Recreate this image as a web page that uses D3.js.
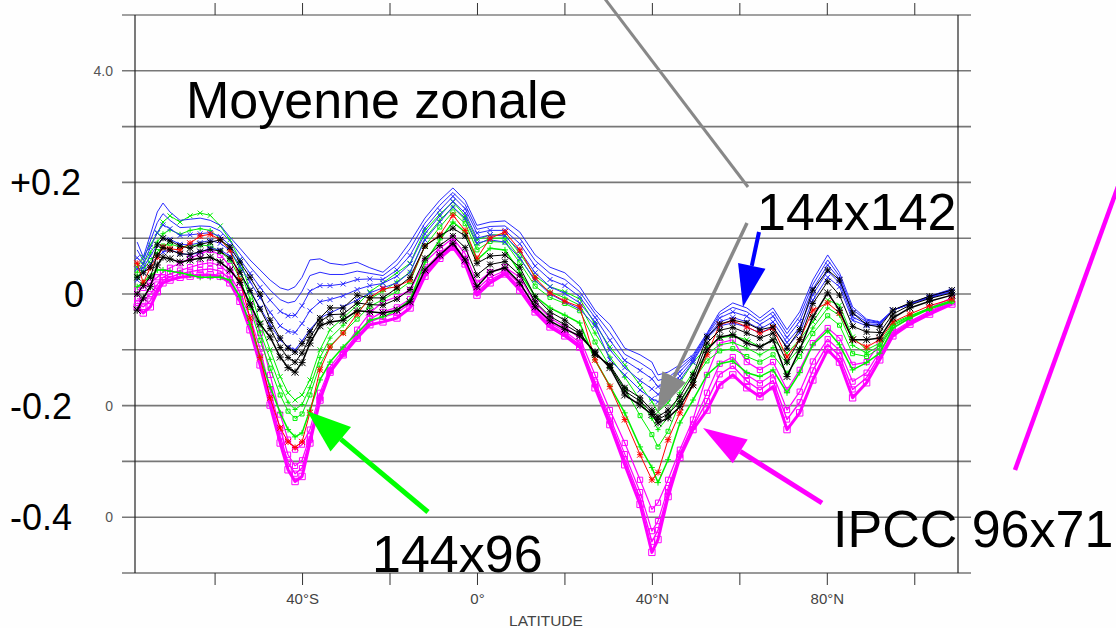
<!DOCTYPE html>
<html>
<head>
<meta charset="utf-8">
<script src="https://cdn.jsdelivr.net/npm/d3@7"></script>
<style>
  html, body { margin: 0; padding: 0; background: #fefefe; }
  svg { display: block; }
</style>
</head>
<body>
<svg id="chart" width="1116" height="628"></svg>
<script>
// Zonal mean profiles, one value per latitude of the shared grid.
const latitudes = [-77.7,-76.3,-74.7,-73.1,-71.8,-70.2,-67.9,-65.6,-63.3,-61,-58.7,-56.5,-54.2,-51.9,-49.6,-47.3,-45,-43.2,-41.6,-40,-38.2,-35.9,-33.6,-30.6,-27.4,-24.5,-21.5,-18.3,-15.3,-11.9,-8.5,-5.5,-2.7,0,3,6.4,9.8,13.3,16.7,20.1,23.5,27,30.4,33.8,37.3,40,41.4,43.7,46.4,49.4,52.6,55.5,58.5,61.7,64.7,67.7,70.9,73.8,76.8,80.2,82.9,85.9,89.1,92.1,95.1,99,103.5,108.6];

// 144x142 runs (blue)
const blueHigh = [.093,.066,.106,.147,.163,.147,.132,.134,.136,.132,
  .123,.102,.082,.061,.043,.025,.011,.007,.013,.030,
  .061,.063,.055,.052,.057,.047,.039,.061,.093,.136,
  .168,.190,.168,.123,.129,.131,.111,.070,.048,.038,
  .013,-.029,-.055,-.097,-.109,-.122,-.145,-.140,-.127,-.109,
  -.070,-.032,-.016,-.025,-.043,-.025,-.064,-.032,.025,.070,
  .038,-.023,-.045,-.050,-.029,-.018,-.004,.009];
const blueUpper = [.079,.060,.095,.128,.144,.132,.119,.120,.122,.121,
  .113,.095,.072,.049,.028,.007,-.010,-.016,-.013,.005,
  .033,.039,.035,.035,.041,.037,.033,.052,.081,.127,
  .159,.182,.160,.116,.121,.122,.100,.060,.037,.026,
  .004,-.035,-.069,-.108,-.123,-.137,-.155,-.150,-.133,-.112,
  -.072,-.037,-.024,-.032,-.049,-.032,-.071,-.040,.017,.061,
  .032,-.028,-.047,-.051,-.029,-.018,-.004,.008];
const blueMid = [.065,.054,.083,.110,.124,.117,.105,.106,.108,.110,
  .103,.087,.062,.037,.012,-.011,-.031,-.039,-.038,-.021,
  .005,.015,.015,.018,.026,.027,.026,.043,.069,.118,
  .150,.175,.153,.109,.114,.114,.090,.050,.026,.015,
  -.005,-.042,-.083,-.119,-.137,-.152,-.166,-.161,-.139,-.115,
  -.074,-.043,-.032,-.040,-.055,-.040,-.078,-.049,.009,.052,
  .027,-.034,-.050,-.052,-.029,-.018,-.005,.007];
const blueLower = [.045,.047,.068,.088,.100,.098,.089,.088,.092,.096,
  .091,.078,.050,.022,-.007,-.033,-.057,-.067,-.069,-.053,
  -.030,-.014,-.010,-.003,.008,.015,.019,.032,.054,.108,
  .140,.166,.145,.100,.106,.104,.077,.038,.013,.001,
  -.016,-.050,-.100,-.132,-.155,-.170,-.180,-.174,-.147,-.119,
  -.077,-.050,-.042,-.050,-.063,-.050,-.087,-.060,-.001,.041,
  .020,-.041,-.054,-.054,-.029,-.018,-.006,.005];
const blueLow = [.025,.039,.054,.066,.075,.079,.073,.070,.075,.082,
  .079,.068,.038,.007,-.025,-.055,-.082,-.095,-.100,-.084,
  -.064,-.043,-.034,-.023,-.011,.002,.011,.020,.039,.097,
  .129,.156,.136,.091,.097,.093,.064,.025,.000,-.014,
  -.027,-.057,-.118,-.145,-.172,-.188,-.193,-.186,-.154,-.122,
  -.079,-.057,-.052,-.059,-.070,-.059,-.095,-.070,-.011,.030,
  .013,-.047,-.057,-.055,-.029,-.018,-.007,.004];

// 144x96 runs (green)
const greenHigh = [.048,.066,.088,.109,.129,.140,.129,.140,.145,.141,
  .122,.097,.061,.007,-.052,-.100,-.148,-.177,-.190,-.181,
  -.154,-.100,-.064,-.043,-.020,.004,.020,.038,.055,.114,
  .143,.165,.140,.097,.106,.106,.073,.032,.013,.004,
  -.009,-.054,-.095,-.127,-.163,-.193,-.211,-.195,-.159,-.123,
  -.095,-.079,-.075,-.082,-.095,-.082,-.106,-.082,-.050,-.011,
  -.020,-.077,-.100,-.088,-.052,-.039,-.025,-.011];
const greenUpper = [.039,.055,.074,.093,.108,.115,.107,.114,.117,.114,
  .099,.079,.045,-.009,-.068,-.117,-.165,-.194,-.207,-.198,
  -.168,-.114,-.079,-.056,-.033,-.009,.005,.022,.039,.100,
  .132,.156,.133,.088,.100,.100,.065,.023,.004,-.007,
  -.020,-.070,-.113,-.149,-.190,-.223,-.243,-.221,-.177,-.140,
  -.108,-.091,-.087,-.097,-.109,-.096,-.124,-.097,-.061,-.025,
  -.038,-.092,-.106,-.093,-.055,-.040,-.026,-.012];
const greenMid = [.030,.044,.060,.076,.086,.090,.084,.087,.088,.086,
  .076,.061,.028,-.024,-.083,-.133,-.181,-.210,-.223,-.215,
  -.181,-.127,-.093,-.069,-.045,-.022,-.010,.005,.022,.086,
  .120,.147,.126,.079,.094,.093,.056,.014,-.006,-.017,
  -.030,-.086,-.130,-.170,-.218,-.252,-.274,-.246,-.195,-.156,
  -.120,-.102,-.098,-.112,-.122,-.109,-.142,-.112,-.071,-.039,
  -.056,-.107,-.112,-.097,-.057,-.041,-.026,-.013];
const greenLow = [.013,.021,.032,.043,.043,.041,.038,.034,.030,.030,
  .030,.025,-.005,-.055,-.113,-.166,-.213,-.243,-.256,-.249,
  -.208,-.154,-.122,-.095,-.070,-.047,-.041,-.029,-.011,.057,
  .097,.129,.111,.061,.082,.079,.039,-.004,-.025,-.038,
  -.052,-.118,-.165,-.213,-.274,-.311,-.338,-.297,-.231,-.190,
  -.145,-.125,-.120,-.141,-.148,-.136,-.177,-.141,-.091,-.066,
  -.091,-.136,-.123,-.106,-.061,-.043,-.027,-.014];

// reference run (red)
const redRun = [.055,.020,.047,.066,.084,.081,.079,.091,.104,.107,
  .097,.079,.025,-.043,-.114,-.186,-.240,-.265,-.275,-.265,
  -.213,-.136,-.095,-.070,-.036,-.007,.009,.013,.025,.086,
  .106,.141,.114,.064,.100,.111,.079,.029,.002,-.013,
  -.023,-.118,-.166,-.225,-.288,-.333,-.320,-.261,-.213,-.163,
  -.109,-.055,-.048,-.059,-.070,-.061,-.113,-.082,-.029,-.016,
  -.034,-.082,-.095,-.082,-.050,-.036,-.021,-.009];

// 144x142 zoomed runs (black)
const blackHigh = [.030,.038,.048,.088,.100,.095,.086,.082,.089,.093,
  .097,.084,.057,.030,.000,-.047,-.079,-.097,-.104,-.089,
  -.068,-.043,-.025,-.025,-.002,-.007,-.007,.011,.030,.086,
  .104,.118,.104,.055,.068,.070,.048,-.005,-.032,-.047,
  -.068,-.109,-.127,-.168,-.186,-.208,-.220,-.208,-.184,-.145,
  -.077,-.054,-.047,-.052,-.064,-.059,-.097,-.064,.007,.043,
  .025,-.034,-.055,-.059,-.029,-.016,-.004,.007];
const blackMid = [.000,.015,.030,.070,.083,.079,.072,.071,.076,.080,
  .077,.064,.039,.006,-.027,-.062,-.096,-.114,-.122,-.106,
  -.078,-.050,-.037,-.036,-.016,-.019,-.020,-.009,.008,.064,
  .087,.104,.083,.034,.053,.058,.034,-.014,-.040,-.055,
  -.071,-.106,-.129,-.174,-.192,-.212,-.225,-.215,-.193,-.154,
  -.088,-.065,-.060,-.070,-.079,-.070,-.122,-.082,-.017,.022,
  -.002,-.058,-.068,-.069,-.036,-.020,-.008,.002];
const blackLow = [-.029,-.007,.013,.052,.066,.063,.057,.061,.064,.066,
  .057,.043,.021,-.018,-.054,-.077,-.113,-.132,-.140,-.123,
  -.088,-.057,-.050,-.047,-.030,-.032,-.034,-.029,-.014,.043,
  .070,.091,.061,.013,.039,.047,.020,-.023,-.048,-.063,
  -.075,-.104,-.132,-.181,-.199,-.216,-.231,-.222,-.202,-.163,
  -.100,-.077,-.073,-.088,-.095,-.082,-.148,-.100,-.041,.002,
  -.029,-.082,-.082,-.079,-.043,-.025,-.013,-.002];

// IPCC 96x71 runs (magenta)
const magentaHigh = [.007,.011,.020,.030,.039,.047,.055,.064,.072,.079,
  .070,.050,.016,-.020,-.070,-.145,-.216,-.261,-.279,-.270,
  -.243,-.177,-.131,-.100,-.064,-.034,-.014,-.005,.007,.057,
  .082,.100,.072,.020,.039,.048,.030,-.016,-.043,-.059,
  -.079,-.145,-.208,-.267,-.333,-.386,-.374,-.333,-.279,-.225,
  -.145,-.088,-.082,-.122,-.136,-.122,-.172,-.136,-.088,-.061,
  -.079,-.127,-.122,-.088,-.061,-.043,-.025,-.007];
const magentaMid = [-.008,-.012,.000,.017,.030,.036,.042,.048,.053,.056,
  .051,.035,.002,-.042,-.098,-.172,-.242,-.288,-.308,-.298,
  -.255,-.184,-.136,-.105,-.072,-.045,-.032,-.024,-.009,.045,
  .073,.092,.063,.009,.030,.042,.018,-.024,-.051,-.067,
  -.087,-.157,-.221,-.287,-.355,-.425,-.407,-.348,-.286,-.234,
  -.177,-.125,-.113,-.145,-.160,-.144,-.208,-.175,-.121,-.081,
  -.101,-.157,-.141,-.103,-.068,-.049,-.031,-.013];
const magentaLower = [-.016,-.023,-.012,.010,.025,.030,.036,.040,.043,.045,
  .041,.027,-.006,-.053,-.112,-.186,-.255,-.302,-.322,-.312,
  -.261,-.187,-.138,-.107,-.076,-.050,-.041,-.034,-.017,.038,
  .068,.088,.058,.003,.025,.039,.012,-.028,-.055,-.071,
  -.091,-.162,-.227,-.296,-.366,-.444,-.423,-.355,-.289,-.238,
  -.192,-.144,-.129,-.156,-.172,-.155,-.225,-.194,-.137,-.090,
  -.111,-.171,-.150,-.110,-.071,-.051,-.033,-.015];
const magentaLow = [-.023,-.034,-.023,.004,.020,.025,.030,.032,.034,.034,
  .032,.020,-.013,-.064,-.127,-.199,-.267,-.315,-.336,-.327,
  -.267,-.190,-.140,-.109,-.079,-.055,-.050,-.043,-.025,.032,
  .064,.084,.054,-.002,.020,.036,.007,-.032,-.059,-.075,
  -.095,-.168,-.234,-.306,-.377,-.463,-.440,-.363,-.293,-.243,
  -.208,-.163,-.145,-.168,-.184,-.166,-.243,-.213,-.154,-.100,
  -.122,-.186,-.159,-.118,-.075,-.054,-.036,-.018];

// Axes: tick positions and labels
const gridValues = [0.5, 0.4, 0.3, 0.2, 0.1, 0, -0.1, -0.2, -0.3, -0.4, -0.5];
const bigLabelValues = [0.2, 0, -0.2, -0.4];
const bigLabelTexts = ["+0.2", "0", "-0.2", "-0.4"];
const smallLabelValues = [0.4, -0.2, -0.4];
const smallLabelTexts = ["4.0", "0", "0"];
const xTickValues = [-60, -40, -20, 0, 20, 40, 60, 80, 100];
const xLabelValues = [-40, 0, 40, 80];
const xLabelTexts = ["40°S", "0°", "40°N", "80°N"];

const FONT = "'Liberation Sans', Arial, Helvetica, sans-serif";
const svg = d3.select("#chart");

const x = d3.scaleLinear().domain([-78.2, 110]).range([135, 958]);
const y = d3.scaleLinear().domain([-0.5, 0.5]).range([573, 15]);

// horizontal rules, reaching a little past both frame sides
svg.append("g").selectAll("line").data(gridValues).join("line")
  .attr("x1", 122).attr("x2", 971)
  .attr("y1", d => y(d)).attr("y2", d => y(d))
  .attr("stroke", d => (d === 0.5 ? "#444" : "#777"))
  .attr("stroke-width", d => (d === 0.5 ? 1.2 : 1.6));

// vertical frame sides
svg.append("g").selectAll("line").data(x.domain()).join("line")
  .attr("x1", d => x(d)).attr("x2", d => x(d))
  .attr("y1", y(0.5)).attr("y2", y(-0.5))
  .attr("stroke", "#222").attr("stroke-width", 1.2);

// top ticks
const topAxis = svg.append("g").attr("transform", `translate(0,${y(0.5)})`)
  .call(d3.axisTop(x).tickValues(xTickValues).tickSize(12).tickFormat(""));
topAxis.select(".domain").remove();
topAxis.selectAll(".tick line").attr("stroke", "#333");

// bottom ticks with latitude labels
const labelOf = new Map(xLabelValues.map((v, i) => [v, xLabelTexts[i]]));
const bottomAxis = svg.append("g").attr("transform", `translate(0,${y(-0.5)})`)
  .call(d3.axisBottom(x).tickValues(xTickValues).tickSize(12).tickPadding(8)
    .tickFormat(d => labelOf.get(d) || ""));
bottomAxis.select(".domain").remove();
bottomAxis.selectAll(".tick line").attr("stroke", "#333");
bottomAxis.selectAll(".tick text")
  .attr("font-family", FONT).attr("font-size", 15).attr("fill", "#444");

svg.append("text").attr("x", 546).attr("y", 626)
  .attr("text-anchor", "middle").attr("font-family", FONT)
  .attr("font-size", 15.5).attr("fill", "#444").text("LATITUDE");

// value labels on the left
svg.append("g").selectAll("text").data(bigLabelValues).join("text")
  .attr("x", (d, i) => (/^[+-]/.test(bigLabelTexts[i]) ? 10 : 84))
  .attr("y", d => y(d) + 13)
  .attr("text-anchor", (d, i) => (/^[+-]/.test(bigLabelTexts[i]) ? "start" : "end"))
  .attr("font-family", FONT).attr("font-size", 36).attr("fill", "#000")
  .text((d, i) => bigLabelTexts[i]);

svg.append("g").selectAll("text").data(smallLabelValues).join("text")
  .attr("x", 113).attr("y", d => y(d) + 5)
  .attr("text-anchor", "end")
  .attr("font-family", FONT).attr("font-size", 14).attr("fill", "#555")
  .text((d, i) => smallLabelTexts[i]);

// title
svg.append("text").attr("x", 186).attr("y", 118)
  .attr("font-family", FONT).attr("font-size", 52).attr("fill", "#000")
  .text("Moyenne zonale");

// profile lines
const seriesList = [
  { values: magentaHigh, color: "#ff00ff", width: 1.2, marker: "square", size: 2.6 },
  { values: magentaMid, color: "#ff00ff", width: 1.2, marker: "square", size: 2.6 },
  { values: magentaLower, color: "#ff00ff", width: 1.4, marker: "square", size: 2.6 },
  { values: magentaLow, color: "#ff00ff", width: 3, marker: "square", size: 3.2 },
  { values: greenHigh, color: "#00f000", width: 1, marker: "times", size: 2.5 },
  { values: greenUpper, color: "#00f000", width: 1, marker: "plus", size: 2.5 },
  { values: greenMid, color: "#00f000", width: 1, marker: "square", size: 2 },
  { values: greenLow, color: "#00f000", width: 1.5, marker: "plus", size: 3 },
  { values: blueHigh, color: "#2a2aff", width: 1, marker: null },
  { values: blueUpper, color: "#2a2aff", width: 1, marker: null },
  { values: blueMid, color: "#2a2aff", width: 1, marker: "times", size: 2.5 },
  { values: blueLower, color: "#2a2aff", width: 1, marker: "times", size: 2.5 },
  { values: blueLow, color: "#2a2aff", width: 1, marker: "times", size: 2.5 },
  { values: redRun, color: "#ff0000", width: 1, marker: "asterisk", size: 3 },
  { values: blackHigh, color: "#000000", width: 1, marker: "asterisk", size: 3 },
  { values: blackMid, color: "#000000", width: 1, marker: "asterisk", size: 3 },
  { values: blackLow, color: "#000000", width: 1.5, marker: "asterisk", size: 3.5 }
];

function markerPath(type, s) {
  const times = `M${-s},${-s}L${s},${s}M${-s},${s}L${s},${-s}`;
  const plus = `M${-s},0L${s},0M0,${-s}L0,${s}`;
  if (type === "times") return times;
  if (type === "plus") return plus;
  if (type === "asterisk") return times + plus;
  return `M${-s},${-s}H${s}V${s}H${-s}Z`;
}

const line = d3.line().x(d => x(d.lat)).y(d => y(d.v));
const plot = svg.append("g");
seriesList.forEach(s => {
  const pts = latitudes.map((lat, i) => ({ lat, v: s.values[i] }));
  const g = plot.append("g");
  g.append("path").datum(pts).attr("d", line)
    .attr("fill", "none").attr("stroke", s.color)
    .attr("stroke-width", s.width).attr("stroke-linejoin", "round");
  if (s.marker) {
    g.selectAll("path.m").data(pts).join("path").attr("class", "m")
      .attr("transform", d => `translate(${x(d.lat)},${y(d.v)})`)
      .attr("d", markerPath(s.marker, s.size))
      .attr("fill", "none").attr("stroke", s.color).attr("stroke-width", 1);
  }
});

// pointer arrows and their labels
function arrow(x1, y1, x2, y2, color, width, headLen, headHalf) {
  const dx = x2 - x1, dy = y2 - y1, len = Math.hypot(dx, dy);
  const ux = dx / len, uy = dy / len;
  const bx = x2 - ux * headLen, by = y2 - uy * headLen;
  svg.append("line").attr("x1", x1).attr("y1", y1).attr("x2", bx).attr("y2", by)
    .attr("stroke", color).attr("stroke-width", width);
  svg.append("path")
    .attr("d", `M${x2},${y2}L${bx - uy * headHalf},${by + ux * headHalf}L${bx + uy * headHalf},${by - ux * headHalf}Z`)
    .attr("fill", color);
}

svg.append("line").attr("x1", 602).attr("y1", -5).attr("x2", 748).attr("y2", 187)
  .attr("stroke", "#888").attr("stroke-width", 3);
arrow(747, 223, 657, 413, "#888888", 3.5, 40, 13);
arrow(759, 232, 743, 307, "#0000ff", 4, 42, 14);
arrow(428, 512, 307, 411, "#00ff00", 5, 44, 16);
arrow(822, 503, 703, 428, "#ff00ff", 5, 44, 14);
svg.append("line").attr("x1", 1124).attr("y1", 170).attr("x2", 1015).attr("y2", 470)
  .attr("stroke", "#ff00ff").attr("stroke-width", 4.5);

const labels = svg.append("g").attr("font-family", FONT).attr("font-size", 52).attr("fill", "#000");
labels.append("text").attr("x", 757).attr("y", 230).text("144x142");
labels.append("text").attr("x", 372).attr("y", 572).text("144x96");
labels.append("text").attr("x", 833).attr("y", 547).text("IPCC 96x71");
</script>
</body>
</html>
